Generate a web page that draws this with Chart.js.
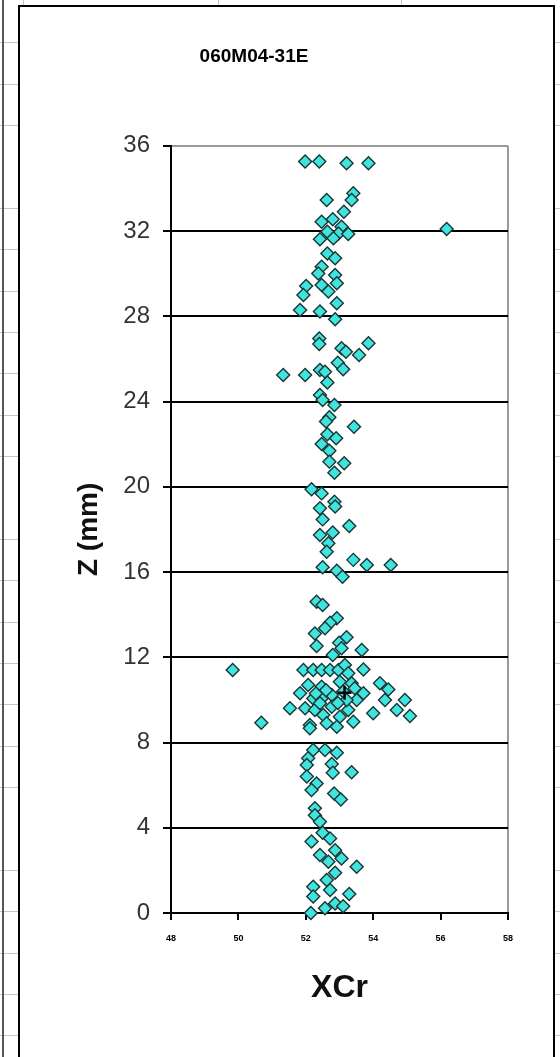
<!DOCTYPE html>
<html>
<head>
<meta charset="utf-8">
<script src="https://cdn.jsdelivr.net/npm/chart.js@4.4.1/dist/chart.umd.min.js"></script>
<style>
  html, body { margin: 0; padding: 0; }
  body {
    width: 560px; height: 1057px; overflow: hidden; position: relative;
    background-color: #fff;
    background-image:
      repeating-linear-gradient(to bottom, transparent 0, transparent 40.4px, #c4c4c4 40.4px, #c4c4c4 41.375px),
      repeating-linear-gradient(to right, transparent 0, transparent 181.5px, #c4c4c4 181.5px, #c4c4c4 182.5px);
    background-position: 0 2px, 37px 0;
  }
  #leftline { position: absolute; left: 2px; top: 0; width: 2px; height: 1057px; background: #555; }
  #box {
    position: absolute; left: 18px; top: 5px; width: 533px; height: 1100px;
    border: 2px solid #000; background: #fff;
  }
  #chart { position: absolute; left: 0; top: 0; }
</style>
</head>
<body>
<div id="leftline"></div>
<div id="box"></div>
<canvas id="chart" width="560" height="1057"></canvas>
<script>
const chartTitle = '060M04-31E';
const xTicks = [48, 50, 52, 54, 56, 58];
const yTicks = [0, 4, 8, 12, 16, 20, 24, 28, 32, 36];

// XCr (x) and Z in mm (y)
const xcr = [
    51.98, 52.40, 53.21, 53.86, 52.62, 53.41, 53.36, 53.13, 52.47, 52.80,
    53.06, 52.64, 52.97, 53.26, 52.42, 52.82, 56.18, 52.64, 52.87, 52.47,
    52.87, 52.37, 52.47, 52.92, 52.67, 52.01, 51.93, 51.83, 52.42, 52.92,
    52.87, 52.40, 52.40, 53.86, 53.06, 53.19, 53.58, 52.95, 53.11, 51.33,
    51.98, 52.42, 52.57, 52.64, 52.42, 52.50, 52.85, 52.70, 52.60, 53.43,
    52.64, 52.90, 52.47, 52.70, 52.70, 53.14, 52.85, 52.17, 52.47, 52.85,
    52.42, 52.87, 52.50, 53.29, 52.42, 52.80, 52.67, 52.62, 53.41, 53.81,
    54.52, 52.50, 52.92, 53.09, 52.32, 52.50, 52.92, 52.72, 52.57, 52.27,
    53.21, 52.99, 53.66, 52.32, 53.06, 52.80, 49.83, 51.93, 52.22, 52.47,
    52.72, 52.97, 53.16, 53.71, 53.26, 53.01, 52.07, 52.47, 53.36, 54.20,
    54.45, 51.83, 52.22, 52.77, 53.11, 53.71, 53.51, 54.35, 54.94, 51.53,
    51.98, 52.27, 52.77, 53.26, 54.00, 54.70, 55.09, 52.52, 53.01, 52.12,
    52.62, 53.41, 52.12, 52.92, 50.68, 52.47, 52.42, 53.21, 52.60, 52.95,
    53.45, 52.30, 52.22, 52.57, 52.92, 52.07, 52.03, 52.77, 52.80, 53.36,
    52.03, 52.32, 52.17, 52.84, 53.04, 52.27, 52.27, 52.42, 52.50, 52.17,
    52.72, 52.87, 52.42, 53.06, 52.67, 53.51, 52.87, 52.62, 52.22, 52.72,
    52.22, 53.29, 52.87, 52.57, 53.11, 52.15
];
const zmm = [
    35.26, 35.26, 35.18, 35.18, 33.46, 33.77, 33.46, 32.91, 32.44, 32.55,
    32.20, 31.97, 31.89, 31.86, 31.61, 31.66, 32.10, 30.95, 30.72, 30.33,
    29.94, 30.01, 29.47, 29.55, 29.16, 29.42, 29.00, 28.30, 28.22, 28.61,
    27.86, 26.96, 26.70, 26.73, 26.50, 26.34, 26.18, 25.82, 25.51, 25.25,
    25.25, 25.48, 25.40, 24.89, 24.31, 24.07, 23.84, 23.26, 23.06, 22.82,
    22.46, 22.28, 22.01, 21.69, 21.18, 21.10, 20.66, 19.88, 19.69, 19.30,
    18.99, 19.07, 18.47, 18.16, 17.74, 17.85, 17.35, 16.95, 16.57, 16.33,
    16.33, 16.22, 16.06, 15.78, 14.61, 14.45, 13.83, 13.62, 13.36, 13.12,
    12.94, 12.68, 12.34, 12.53, 12.42, 12.11, 11.40, 11.40, 11.40, 11.40,
    11.40, 11.40, 11.64, 11.43, 11.25, 10.85, 10.70, 10.62, 10.78, 10.78,
    10.49, 10.31, 10.07, 10.23, 10.39, 10.31, 9.99, 9.99, 9.99, 9.61,
    9.61, 9.53, 9.68, 9.53, 9.37, 9.53, 9.24, 9.29, 9.21, 8.82,
    8.90, 8.97, 8.67, 8.74, 8.93, 10.07, 9.84, 9.99, 10.45, 9.85,
    10.55, 10.30, 7.65, 7.65, 7.52, 7.26, 6.95, 6.99, 6.58, 6.60,
    6.40, 6.08, 5.77, 5.61, 5.33, 4.91, 4.59, 4.28, 3.77, 3.35,
    3.50, 2.95, 2.72, 2.56, 2.40, 2.17, 1.89, 1.55, 1.23, 1.08,
    0.77, 0.89, 0.45, 0.22, 0.32, 0.00
];
// the black cross inside the dense cluster
const meanX = [53.15];
const meanZ = [10.33];

const font = 'Liberation Sans, Arial, sans-serif';

new Chart(document.getElementById('chart'), {
    type: 'scatter',
    data: {
        datasets: [{
            data: meanX.map((x, i) => ({ x, y: meanZ[i] })),
            pointStyle: 'cross',
            pointRadius: 7,
            borderColor: '#000',
            borderWidth: 2.5,
            order: 0
        }, {
            data: xcr.map((x, i) => ({ x, y: zmm[i] })),
            pointStyle: 'rectRot',
            pointRadius: 6.5,
            backgroundColor: '#40e4de',
            borderColor: '#1b3434',
            borderWidth: 1.4,
            order: 1
        }]
    },
    options: {
        responsive: false,
        animation: false,
        clip: false,
        layout: { padding: { top: 45, right: 52, bottom: 0, left: 0 } },
        plugins: {
            legend: { display: false },
            tooltip: { enabled: false },
            title: {
                display: true,
                text: chartTitle,
                color: '#000',
                font: { family: font, size: 19, weight: 'bold' },
                padding: { top: 0, bottom: 78 }
            }
        },
        scales: {
            x: {
                type: 'linear',
                min: 48, max: 58,
                afterBuildTicks: s => { s.ticks = xTicks.map(v => ({ value: v })); },
                afterFit: s => { s.height = 144; },
                border: { color: '#000', width: 2 },
                grid: {
                    color: c => c.tick && c.tick.value === 58 ? '#9a9a9a' : 'rgba(0,0,0,0)',
                    tickColor: '#000',
                    lineWidth: 2,
                    tickLength: 7
                },
                ticks: {
                    padding: 13,
                    color: '#000',
                    font: { family: font, size: 9, weight: 'bold' }
                },
                title: {
                    display: true,
                    text: 'XCr',
                    color: '#111',
                    font: { family: font, size: 32, weight: 'bold' },
                    padding: { top: 0, bottom: 50 }
                }
            },
            y: {
                type: 'linear',
                min: 0, max: 36,
                afterBuildTicks: s => { s.ticks = yTicks.map(v => ({ value: v })); },
                afterFit: s => { s.width = 171; },
                border: { color: '#000', width: 2 },
                grid: {
                    color: c => c.tick && c.tick.value === 36 ? '#9a9a9a' : '#000',
                    tickColor: '#000',
                    lineWidth: 2,
                    tickLength: 8
                },
                ticks: {
                    padding: 13,
                    color: '#333',
                    font: { family: font, size: 24 }
                },
                title: {
                    display: true,
                    text: 'Z (mm)',
                    color: '#111',
                    font: { family: font, size: 28, weight: 'bold' },
                    padding: { top: 72, bottom: 0 }
                }
            }
        }
    }
});
</script>
</body>
</html>
